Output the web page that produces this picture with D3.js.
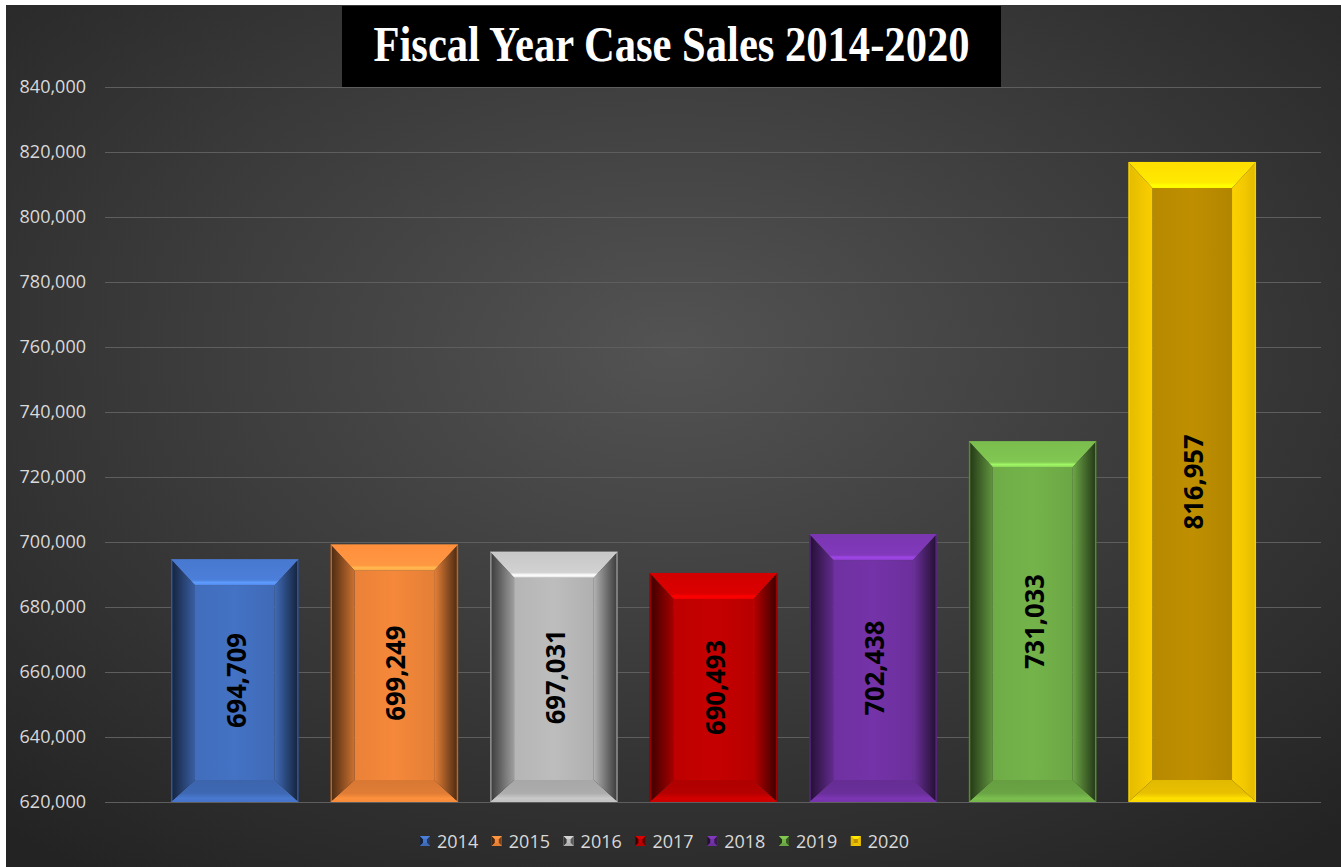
<!DOCTYPE html>
<html>
<head>
<meta charset="utf-8">
<script src="https://cdn.jsdelivr.net/npm/d3@7"></script>
<style>
  html, body { margin: 0; padding: 0; background: #ffffff; }
  svg { display: block; }
</style>
</head>
<body>
<svg id="chart" width="1341" height="867"></svg>
<script>
// Fiscal year case sales
const years = ["2014", "2015", "2016", "2017", "2018", "2019", "2020"];
const caseSales = [694709, 699249, 697031, 690493, 702438, 731033, 816957];
const yTicks = [620000, 640000, 660000, 680000, 700000, 720000, 740000, 760000, 780000, 800000, 820000, 840000];

// Bar styling: face colour, bevel colour, strength of the shaded sides
const barFace  = ["#4472c4", "#f5883a", "#bdbdbd", "#c60000", "#7433a8", "#74b34a", "#bf8f00"];
const barBevel = ["#4472c4", "#f5883a", "#bdbdbd", "#c60000", "#7433a8", "#74b34a", "#ffd200"];
const barShade = [3.4, 3.4, 3.4, 3.4, 3.4, 3.4, 0.35];

const W = 1341, H = 867;
const svg = d3.select("#chart");
const defs = svg.append("defs");

// Background with soft radial light
const bg = defs.append("radialGradient").attr("id", "bgGrad")
  .attr("cx", "50%").attr("cy", "40%").attr("r", "75%");
bg.append("stop").attr("offset", "0%").attr("stop-color", "#535353");
bg.append("stop").attr("offset", "100%").attr("stop-color", "#232323");
svg.append("rect").attr("x", 6).attr("y", 5).attr("width", W - 6).attr("height", H - 5)
  .attr("fill", "url(#bgGrad)");

// Scales
const x = d3.scaleBand().domain(years).range([155, 1272]).paddingInner(0.2).paddingOuter(0.1);
const y = d3.scaleLinear().domain([620000, 840000]).range([802, 87]);

// Gridlines
svg.append("g").selectAll("line").data(yTicks).join("line")
  .attr("x1", 105).attr("x2", 1321)
  .attr("y1", d => Math.round(y(d)) + 0.5).attr("y2", d => Math.round(y(d)) + 0.5)
  .attr("stroke", "#5e5e5e").attr("stroke-width", 1);

// Y axis labels
const yAxis = d3.axisLeft(y).tickValues(yTicks).tickFormat(d3.format(",")).tickSize(0).tickPadding(0);
const gy = svg.append("g").attr("transform", "translate(86,0)").call(yAxis);
gy.select(".domain").remove();
gy.selectAll("text").attr("fill", "#d9d9d9").attr("font-family", "'Open Sans', sans-serif")
  .attr("font-size", 18);

// Gradients for each bevelled bar
function makeGrad(id, vertical, stops) {
  const g = defs.append("linearGradient").attr("id", id)
    .attr("x1", 0).attr("y1", 0).attr("x2", vertical ? 0 : 1).attr("y2", vertical ? 1 : 0);
  stops.forEach(([o, c]) => g.append("stop").attr("offset", o).attr("stop-color", c));
}
years.forEach((yr, i) => {
  const c = d3.color(barBevel[i]);
  const k = barShade[i];
  makeGrad(`left${i}`, false, [[0, c.darker(k).formatHex()], [0.15, c.darker(k * 0.8).formatHex()], [1, c.darker(k * 0.15).formatHex()]]);
  makeGrad(`right${i}`, false, [[0, c.darker(k * 0.05).formatHex()], [0.55, c.darker(k * 0.45).formatHex()], [1, c.darker(k).formatHex()]]);
  makeGrad(`top${i}`, true, [[0, c.brighter(0.15).formatHex()], [0.8, c.brighter(0.3).formatHex()], [0.9, c.brighter(0.9).formatHex()], [1, c.brighter(0.5).formatHex()]]);
  makeGrad(`bottom${i}`, true, [[0, c.darker(0.35).formatHex()], [0.6, c.darker(0.25).formatHex()], [0.85, c.brighter(0.2).formatHex()], [1, c.darker(0.1).formatHex()]]);
  makeGrad(`face${i}`, false, [[0, d3.color(barFace[i]).darker(0.12).formatHex()], [0.5, barFace[i]], [1, d3.color(barFace[i]).darker(0.2).formatHex()]]);
});

// Bars
const bevelX = 24, bevelTop = 26, bevelBottom = 22;
const bars = svg.append("g").selectAll("g.bar").data(caseSales).join("g").attr("class", "bar");
bars.each(function (v, i) {
  const g = d3.select(this);
  const x0 = x(years[i]), x1 = x0 + x.bandwidth();
  const y0 = y(v), y1 = y(620000);
  const ix0 = x0 + bevelX, ix1 = x1 - bevelX, iy0 = y0 + bevelTop, iy1 = y1 - bevelBottom;
  const pts = a => a.map(p => p.join(",")).join(" ");
  g.append("rect").attr("x", ix0).attr("y", iy0).attr("width", ix1 - ix0).attr("height", iy1 - iy0)
    .attr("fill", `url(#face${i})`);
  g.append("polygon").attr("points", pts([[x0, y0], [x1, y0], [ix1, iy0], [ix0, iy0]])).attr("fill", `url(#top${i})`);
  g.append("polygon").attr("points", pts([[x0, y1], [x1, y1], [ix1, iy1], [ix0, iy1]])).attr("fill", `url(#bottom${i})`);
  g.append("polygon").attr("points", pts([[x0, y0], [ix0, iy0], [ix0, iy1], [x0, y1]])).attr("fill", `url(#left${i})`);
  g.append("polygon").attr("points", pts([[x1, y0], [ix1, iy0], [ix1, iy1], [x1, y1]])).attr("fill", `url(#right${i})`);
  g.append("rect").attr("x", x0 + 0.75).attr("y", y0 + 0.75).attr("width", x1 - x0 - 1.5).attr("height", y1 - y0 - 1.5)
    .attr("fill", "none").attr("stroke", d3.color(barBevel[i]).brighter(0.2).formatHex()).attr("stroke-width", 1.5)
    .attr("stroke-opacity", 0.6);
});

// Value labels inside the bars
svg.append("g").selectAll("text").data(caseSales).join("text")
  .attr("transform", (d, i) => `translate(${x(years[i]) + x.bandwidth() / 2 + 1},${(y(d) + y(620000)) / 2}) rotate(-90)`)
  .attr("text-anchor", "middle").attr("dominant-baseline", "central")
  .attr("font-family", "'Open Sans', sans-serif").attr("font-weight", 700).attr("font-size", 26)
  .attr("textLength", 95).attr("lengthAdjust", "spacingAndGlyphs")
  .attr("fill", "#000000")
  .text(d3.format(","));

// Title
svg.append("rect").attr("x", 342).attr("y", 6).attr("width", 659).attr("height", 81).attr("fill", "#000000");
svg.append("text").attr("x", 671.5).attr("y", 61)
  .attr("text-anchor", "middle")
  .attr("font-family", "'Liberation Serif', 'Times New Roman', serif").attr("font-weight", 700)
  .attr("font-size", 50).attr("fill", "#ffffff")
  .attr("textLength", 596).attr("lengthAdjust", "spacingAndGlyphs")
  .text("Fiscal Year Case Sales 2014-2020");

// Legend
const legendStep = 71.8, legendX = 420, legendY = 841;
const leg = svg.append("g").selectAll("g").data(years).join("g")
  .attr("transform", (d, i) => `translate(${legendX + i * legendStep},${legendY})`);
leg.each(function (yr, i) {
  const g = d3.select(this);
  const c = d3.color(barBevel[i]);
  const s = 10;
  g.append("rect").attr("x", 0).attr("y", -s / 2).attr("width", s).attr("height", s).attr("fill", barFace[i]);
  g.append("polygon").attr("points", `0,${-s / 2} 3,${-s / 2 + 3} 3,${s / 2 - 3} 0,${s / 2}`)
    .attr("fill", c.darker(barShade[i]).formatHex());
  g.append("polygon").attr("points", `${s},${-s / 2} ${s - 3},${-s / 2 + 3} ${s - 3},${s / 2 - 3} ${s},${s / 2}`)
    .attr("fill", c.darker(barShade[i] * 0.6).formatHex());
  g.append("polygon").attr("points", `0,${-s / 2} ${s},${-s / 2} ${s - 3},${-s / 2 + 3} 3,${-s / 2 + 3}`)
    .attr("fill", c.brighter(0.3).formatHex());
  g.append("polygon").attr("points", `0,${s / 2} ${s},${s / 2} ${s - 3},${s / 2 - 3} 3,${s / 2 - 3}`)
    .attr("fill", c.darker(0.2).formatHex());
  g.append("text").attr("x", 17).attr("y", 0).attr("dominant-baseline", "central")
    .attr("font-family", "'Open Sans', sans-serif").attr("font-size", 18).attr("fill", "#d9d9d9")
    .text(yr);
});
</script>
</body>
</html>
